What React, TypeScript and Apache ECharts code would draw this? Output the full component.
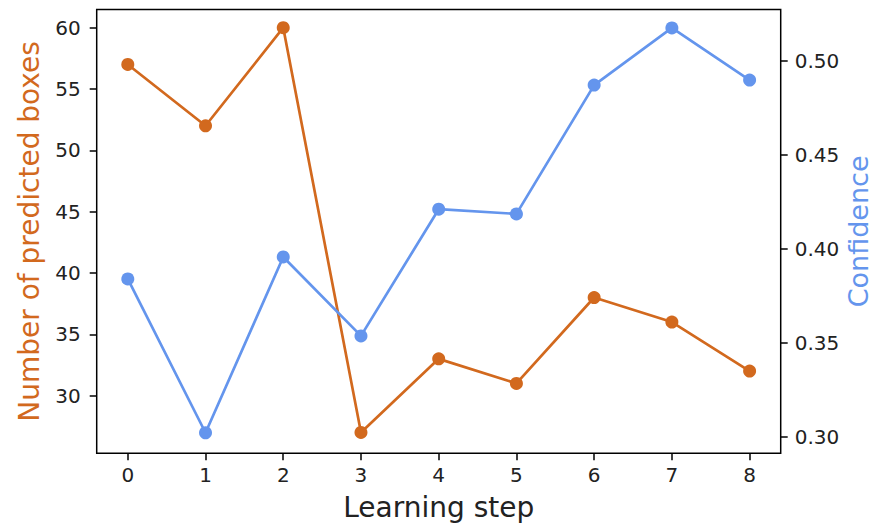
import React, { useEffect, useRef } from "react";
import * as echarts from "echarts";

const steps = [0, 1, 2, 3, 4, 5, 6, 7, 8];
const boxes = [57, 52, 60, 27, 33, 31, 38, 36, 32];
const confidence = [0.3839, 0.3021, 0.3956, 0.3536, 0.421, 0.4185, 0.487, 0.5174, 0.4897];
const xTicks = [0, 1, 2, 3, 4, 5, 6, 7, 8];
const leftTicks = [30, 35, 40, 45, 50, 55, 60];
const rightTicks = [0.3, 0.35, 0.4, 0.45, 0.5];

const ORANGE = "#D2691E";
const BLUE = "#6495ED";
const FONT = "DejaVu Sans";

export default function App() {
  const ref = useRef<HTMLDivElement>(null);
  useEffect(() => {
    const chart = echarts.init(ref.current!, null, { renderer: "svg" });
    const tickStyle = { show: true, inside: false, length: 7, lineStyle: { color: "#000", width: 1.5 } };
    const labelStyle = { color: "#222", fontFamily: FONT, fontSize: 20 };
    chart.setOption({
      animation: false,
      backgroundColor: "#fff",
      grid: {
        left: 96.7,
        right: 95.3,
        top: 9.5,
        bottom: 74.7,
        show: true,
        borderColor: "#000",
        borderWidth: 1.5,
        backgroundColor: "transparent",
        containLabel: false,
        outerBoundsMode: "none",
      },
      xAxis: {
        type: "value",
        min: -0.4,
        max: 8.4,
        name: "Learning step",
        nameLocation: "middle",
        nameGap: 40,
        nameMoveOverlap: false,
        nameTextStyle: { color: "#222", fontFamily: FONT, fontSize: 28 },
        axisLine: { show: false, onZero: false },
        splitLine: { show: false },
        axisTick: { ...tickStyle, customValues: xTicks },
        axisLabel: { ...labelStyle, margin: 12, customValues: xTicks },
      },
      yAxis: [
        {
          type: "value",
          position: "left",
          min: 25.3,
          max: 61.48,
          name: "Number of predicted boxes",
          nameLocation: "middle",
          nameGap: 53,
          nameMoveOverlap: false,
          nameTextStyle: { color: ORANGE, fontFamily: FONT, fontSize: 28 },
          axisLine: { show: false, onZero: false },
          splitLine: { show: false },
          axisTick: { ...tickStyle, customValues: leftTicks },
          axisLabel: { ...labelStyle, margin: 16, customValues: leftTicks },
        },
        {
          type: "value",
          position: "right",
          min: 0.29117,
          max: 0.5272,
          name: "Confidence",
          nameLocation: "middle",
          nameGap: 64,
          nameMoveOverlap: false,
          nameTextStyle: { color: BLUE, fontFamily: FONT, fontSize: 27 },
          axisLine: { show: false, onZero: false },
          splitLine: { show: false },
          axisTick: { ...tickStyle, customValues: rightTicks },
          axisLabel: {
            ...labelStyle,
            margin: 14,
            customValues: rightTicks,
            formatter: (v: number) => v.toFixed(2),
          },
        },
      ],
      series: [
        {
          type: "line",
          yAxisIndex: 0,
          data: steps.map((s, i) => [s, boxes[i]]),
          symbol: "circle",
          symbolSize: 13,
          itemStyle: { color: ORANGE },
          lineStyle: { color: ORANGE, width: 2.7 },
          z: 2,
        },
        {
          type: "line",
          yAxisIndex: 1,
          data: steps.map((s, i) => [s, confidence[i]]),
          symbol: "circle",
          symbolSize: 13,
          itemStyle: { color: BLUE },
          lineStyle: { color: BLUE, width: 2.7 },
          z: 3,
        },
      ],
    });
    return () => chart.dispose();
  }, []);
  return (
    <div
      ref={ref}
      style={{ position: "absolute", left: 0, top: 0, width: 876, height: 528 }}
    />
  );
}
